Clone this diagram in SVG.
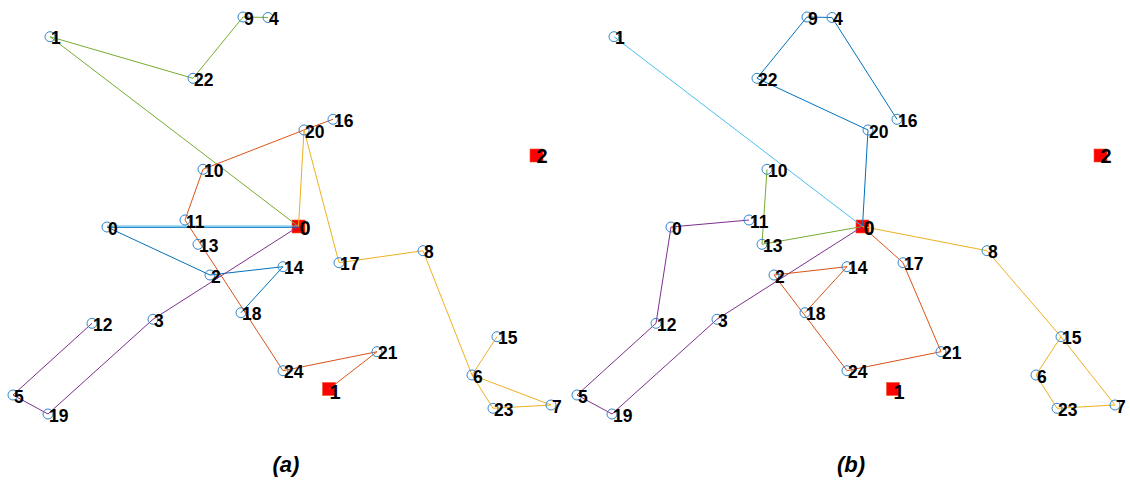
<svg xmlns="http://www.w3.org/2000/svg" width="1130" height="481" viewBox="0 0 1130 481">
<style>
.n circle{fill:none;stroke:#2F86D0;stroke-width:1}
.d rect{fill:#FF0000;stroke:#F05A30;stroke-width:0.6}
text{font-family:"Liberation Sans",Arial,sans-serif;font-weight:bold;fill:#000}
.n text{font-size:17.5px}
.d text{font-size:20px}
.t{font-size:22px;font-style:italic;text-anchor:middle}
line{stroke-width:1;fill:none}
.bl{stroke:#0072BD}.or{stroke:#D95319}.ye{stroke:#EDB120}.pu{stroke:#7E2F8E}.gr{stroke:#77AC30}.lb{stroke:#4DBEEE}
</style>
<rect width="1130" height="481" fill="#fff"/>

<!-- Panel (a) -->
<g id="panel-a">
<g id="a-depot0" class="d"><rect x="292" y="220" width="13" height="13"/></g>
<g id="a-depot1" class="d"><rect x="322.5" y="382.5" width="13" height="13"/></g>
<g id="a-depot2" class="d"><rect x="530" y="149" width="13" height="13"/></g>
<g id="a-connectors">
<line class="gr" x1="298.5" y1="226.5" x2="50" y2="36.7"/>
<line class="gr" x1="50" y1="36.7" x2="193" y2="78.3"/>
<line class="gr" x1="193" y1="78.3" x2="243" y2="17"/>
<line class="gr" x1="243" y1="17" x2="268" y2="17.5"/>
<line class="or" x1="329" y1="389" x2="377" y2="351.7"/>
<line class="or" x1="377" y1="351.7" x2="283" y2="370.7"/>
<line class="or" x1="283" y1="370.7" x2="185" y2="220"/>
<line class="or" x1="185" y1="220" x2="203" y2="169.3"/>
<line class="or" x1="203" y1="169.3" x2="304" y2="130"/>
<line class="or" x1="304" y1="130" x2="333" y2="119.3"/>
<line class="lb" x1="298.5" y1="226" x2="107" y2="226"/>
<line class="bl" x1="298.5" y1="227.3" x2="107" y2="227.3"/>
<line class="bl" x1="107" y1="227" x2="210" y2="275"/>
<line class="bl" x1="210" y1="275" x2="283" y2="266.7"/>
<line class="bl" x1="283" y1="266.7" x2="241" y2="312.7"/>
<line class="pu" x1="298.5" y1="226.5" x2="153" y2="319.3"/>
<line class="pu" x1="153" y1="319.3" x2="48" y2="414"/>
<line class="pu" x1="48" y1="414" x2="13" y2="395"/>
<line class="pu" x1="13" y1="395" x2="92" y2="323.3"/>
<line class="ye" x1="298.5" y1="226.5" x2="304" y2="130"/>
<line class="ye" x1="304" y1="130" x2="339" y2="262.7"/>
<line class="ye" x1="339" y1="262.7" x2="423" y2="250.7"/>
<line class="ye" x1="423" y1="250.7" x2="472" y2="375"/>
<line class="ye" x1="472" y1="375" x2="497" y2="336.7"/>
<line class="ye" x1="472" y1="375" x2="493" y2="408.3"/>
<line class="ye" x1="493" y1="408.3" x2="551" y2="405"/>
<line class="ye" x1="551" y1="405" x2="472" y2="375"/>
</g>
<g id="a-n0" class="n"><circle cx="107" cy="227" r="5"/><text x="108" y="234.5">0</text></g>
<g id="a-n1" class="n"><circle cx="50" cy="36.7" r="5"/><text x="51" y="44.2">1</text></g>
<g id="a-n2" class="n"><circle cx="210" cy="275" r="5"/><text x="211" y="282.5">2</text></g>
<g id="a-n3" class="n"><circle cx="153" cy="319.3" r="5"/><text x="154" y="326.8">3</text></g>
<g id="a-n4" class="n"><circle cx="268" cy="17.5" r="5"/><text x="269" y="25">4</text></g>
<g id="a-n5" class="n"><circle cx="13" cy="395" r="5"/><text x="14" y="402.5">5</text></g>
<g id="a-n6" class="n"><circle cx="472" cy="375" r="5"/><text x="473" y="382.5">6</text></g>
<g id="a-n7" class="n"><circle cx="551" cy="405" r="5"/><text x="552" y="412.5">7</text></g>
<g id="a-n8" class="n"><circle cx="423" cy="250.7" r="5"/><text x="424" y="258.2">8</text></g>
<g id="a-n9" class="n"><circle cx="243" cy="17" r="5"/><text x="244" y="24.5">9</text></g>
<g id="a-n10" class="n"><circle cx="203" cy="169.3" r="5"/><text x="204" y="176.8">10</text></g>
<g id="a-n11" class="n"><circle cx="185" cy="220" r="5"/><text x="186" y="227.5">11</text></g>
<g id="a-n12" class="n"><circle cx="92" cy="323.3" r="5"/><text x="93" y="330.8">12</text></g>
<g id="a-n13" class="n"><circle cx="198" cy="244.3" r="5"/><text x="199" y="251.8">13</text></g>
<g id="a-n14" class="n"><circle cx="283" cy="266.7" r="5"/><text x="284" y="274.2">14</text></g>
<g id="a-n15" class="n"><circle cx="497" cy="336.7" r="5"/><text x="498" y="344.2">15</text></g>
<g id="a-n16" class="n"><circle cx="333" cy="119.3" r="5"/><text x="334" y="126.8">16</text></g>
<g id="a-n17" class="n"><circle cx="339" cy="262.7" r="5"/><text x="340" y="270.2">17</text></g>
<g id="a-n18" class="n"><circle cx="241" cy="312.7" r="5"/><text x="242" y="320.2">18</text></g>
<g id="a-n19" class="n"><circle cx="48" cy="414" r="5"/><text x="49" y="421.5">19</text></g>
<g id="a-n20" class="n"><circle cx="304" cy="130" r="5"/><text x="305" y="137.5">20</text></g>
<g id="a-n21" class="n"><circle cx="377" cy="351.7" r="5"/><text x="378" y="359.2">21</text></g>
<g id="a-n22" class="n"><circle cx="193" cy="78.3" r="5"/><text x="194" y="85.8">22</text></g>
<g id="a-n23" class="n"><circle cx="493" cy="408.3" r="5"/><text x="494" y="415.8">23</text></g>
<g id="a-n24" class="n"><circle cx="283" cy="370.7" r="5"/><text x="284" y="378.2">24</text></g>
<g id="a-depot-labels" class="d">
<text x="299.5" y="235">0</text>
<text x="329.5" y="398.5">1</text>
<text x="536.5" y="163">2</text>
</g>
<text class="t" x="286" y="472">(a)</text>
</g>

<!-- Panel (b) -->
<g id="panel-b" transform="translate(564,0)">
<g id="b-depot0" class="d"><rect x="292" y="220" width="13" height="13"/></g>
<g id="b-depot1" class="d"><rect x="322.5" y="382.5" width="13" height="13"/></g>
<g id="b-depot2" class="d"><rect x="530" y="149" width="13" height="13"/></g>
<g id="b-connectors">
<line class="lb" x1="298.5" y1="226.5" x2="50" y2="36.7"/>
<line class="bl" x1="298.5" y1="226.5" x2="304" y2="130"/>
<line class="bl" x1="304" y1="130" x2="193" y2="78.3"/>
<line class="bl" x1="193" y1="78.3" x2="243" y2="17"/>
<line class="bl" x1="243" y1="17" x2="268" y2="17.5"/>
<line class="bl" x1="268" y1="17.5" x2="333" y2="119.3"/>
<line class="gr" x1="298.5" y1="226.5" x2="198" y2="244.3"/>
<line class="gr" x1="198" y1="244.3" x2="203" y2="169.3"/>
<line class="pu" x1="298.5" y1="226.5" x2="153" y2="319.3"/>
<line class="pu" x1="153" y1="319.3" x2="48" y2="414"/>
<line class="pu" x1="48" y1="414" x2="13" y2="395"/>
<line class="pu" x1="13" y1="395" x2="92" y2="323.3"/>
<line class="pu" x1="92" y1="323.3" x2="107" y2="227"/>
<line class="pu" x1="107" y1="227" x2="185" y2="220"/>
<line class="or" x1="298.5" y1="226.5" x2="339" y2="262.7"/>
<line class="or" x1="339" y1="262.7" x2="377" y2="351.7"/>
<line class="or" x1="377" y1="351.7" x2="283" y2="370.7"/>
<line class="or" x1="283" y1="370.7" x2="210" y2="275"/>
<line class="or" x1="210" y1="275" x2="283" y2="266.7"/>
<line class="or" x1="283" y1="266.7" x2="241" y2="312.7"/>
<line class="ye" x1="298.5" y1="226.5" x2="423" y2="250.7"/>
<line class="ye" x1="423" y1="250.7" x2="497" y2="336.7"/>
<line class="ye" x1="497" y1="336.7" x2="472" y2="375"/>
<line class="ye" x1="472" y1="375" x2="493" y2="408.3"/>
<line class="ye" x1="493" y1="408.3" x2="551" y2="405"/>
<line class="ye" x1="551" y1="405" x2="497" y2="336.7"/>
</g>
<g id="b-n0" class="n"><circle cx="107" cy="227" r="5"/><text x="108" y="234.5">0</text></g>
<g id="b-n1" class="n"><circle cx="50" cy="36.7" r="5"/><text x="51" y="44.2">1</text></g>
<g id="b-n2" class="n"><circle cx="210" cy="275" r="5"/><text x="211" y="282.5">2</text></g>
<g id="b-n3" class="n"><circle cx="153" cy="319.3" r="5"/><text x="154" y="326.8">3</text></g>
<g id="b-n4" class="n"><circle cx="268" cy="17.5" r="5"/><text x="269" y="25">4</text></g>
<g id="b-n5" class="n"><circle cx="13" cy="395" r="5"/><text x="14" y="402.5">5</text></g>
<g id="b-n6" class="n"><circle cx="472" cy="375" r="5"/><text x="473" y="382.5">6</text></g>
<g id="b-n7" class="n"><circle cx="551" cy="405" r="5"/><text x="552" y="412.5">7</text></g>
<g id="b-n8" class="n"><circle cx="423" cy="250.7" r="5"/><text x="424" y="258.2">8</text></g>
<g id="b-n9" class="n"><circle cx="243" cy="17" r="5"/><text x="244" y="24.5">9</text></g>
<g id="b-n10" class="n"><circle cx="203" cy="169.3" r="5"/><text x="204" y="176.8">10</text></g>
<g id="b-n11" class="n"><circle cx="185" cy="220" r="5"/><text x="186" y="227.5">11</text></g>
<g id="b-n12" class="n"><circle cx="92" cy="323.3" r="5"/><text x="93" y="330.8">12</text></g>
<g id="b-n13" class="n"><circle cx="198" cy="244.3" r="5"/><text x="199" y="251.8">13</text></g>
<g id="b-n14" class="n"><circle cx="283" cy="266.7" r="5"/><text x="284" y="274.2">14</text></g>
<g id="b-n15" class="n"><circle cx="497" cy="336.7" r="5"/><text x="498" y="344.2">15</text></g>
<g id="b-n16" class="n"><circle cx="333" cy="119.3" r="5"/><text x="334" y="126.8">16</text></g>
<g id="b-n17" class="n"><circle cx="339" cy="262.7" r="5"/><text x="340" y="270.2">17</text></g>
<g id="b-n18" class="n"><circle cx="241" cy="312.7" r="5"/><text x="242" y="320.2">18</text></g>
<g id="b-n19" class="n"><circle cx="48" cy="414" r="5"/><text x="49" y="421.5">19</text></g>
<g id="b-n20" class="n"><circle cx="304" cy="130" r="5"/><text x="305" y="137.5">20</text></g>
<g id="b-n21" class="n"><circle cx="377" cy="351.7" r="5"/><text x="378" y="359.2">21</text></g>
<g id="b-n22" class="n"><circle cx="193" cy="78.3" r="5"/><text x="194" y="85.8">22</text></g>
<g id="b-n23" class="n"><circle cx="493" cy="408.3" r="5"/><text x="494" y="415.8">23</text></g>
<g id="b-n24" class="n"><circle cx="283" cy="370.7" r="5"/><text x="284" y="378.2">24</text></g>
<g id="b-depot-labels" class="d">
<text x="299.5" y="235">0</text>
<text x="329.5" y="398.5">1</text>
<text x="536.5" y="163">2</text>
</g>
<text class="t" x="287" y="472">(b)</text>
</g>
</svg>
